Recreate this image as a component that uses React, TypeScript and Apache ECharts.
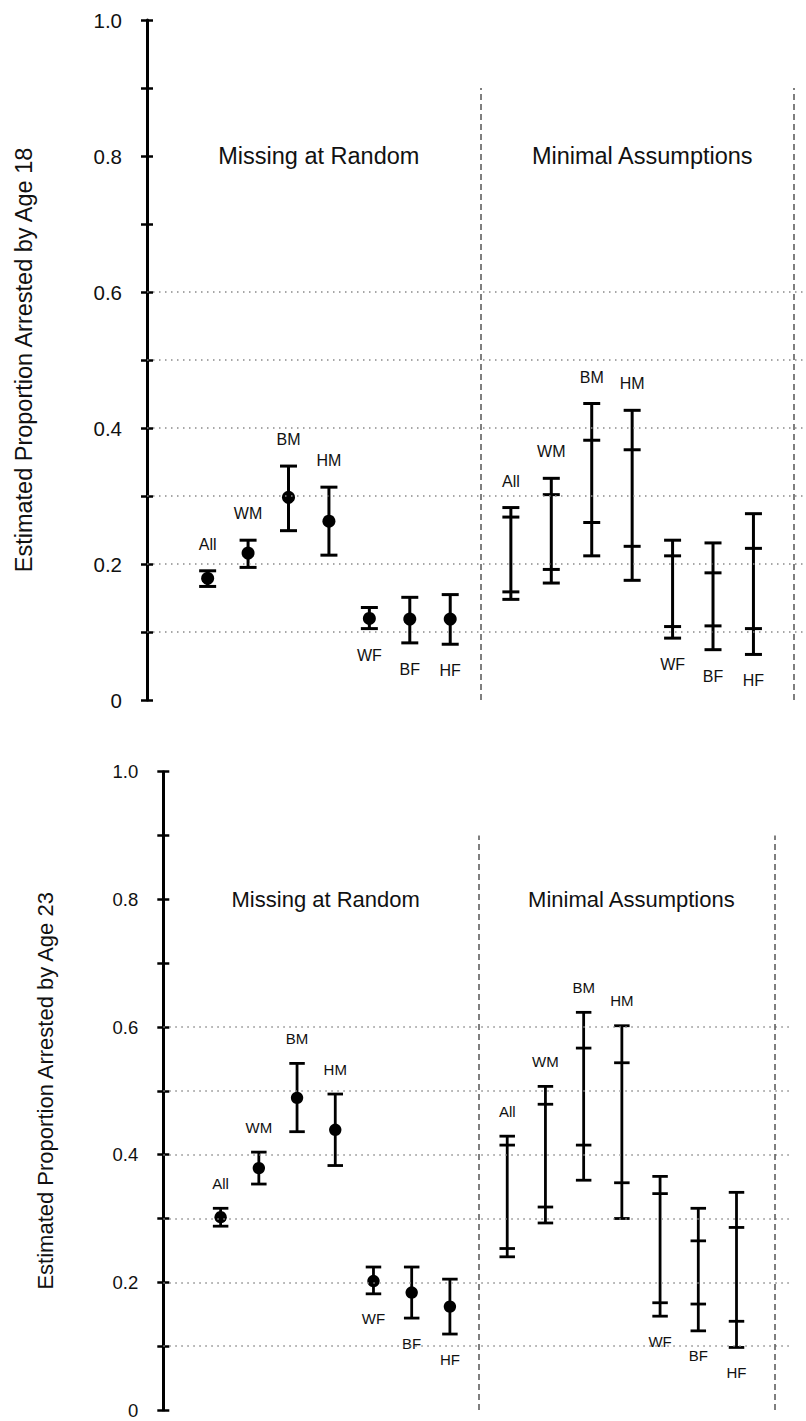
import React, { useEffect, useRef } from "react";
import * as echarts from "echarts";

// ---------- data ----------
const groups = ["All", "WM", "BM", "HM", "WF", "BF", "HF"];
const panelTitles = ["Missing at Random", "Minimal Assumptions"];
const yTickLabels = ["0", "0.2", "0.4", "0.6", "0.8", "1.0"];
const yAxisNames = [
  "Estimated Proportion Arrested by Age 18",
  "Estimated Proportion Arrested by Age 23",
];
const gridLineValues = [0.1, 0.2, 0.3, 0.4, 0.5, 0.6];

// Age 18 — Missing at Random: lower, estimate, upper
const mar18Low = [0.167, 0.195, 0.249, 0.213, 0.105, 0.084, 0.082];
const mar18Est = [0.179, 0.216, 0.298, 0.263, 0.12, 0.119, 0.119];
const mar18High = [0.19, 0.235, 0.344, 0.313, 0.136, 0.151, 0.155];
// Age 18 — Minimal Assumptions: outer/inner bounds
const ma18OuterLow = [0.148, 0.172, 0.212, 0.176, 0.091, 0.074, 0.067];
const ma18InnerLow = [0.159, 0.192, 0.261, 0.226, 0.108, 0.109, 0.105];
const ma18InnerHigh = [0.269, 0.302, 0.382, 0.368, 0.212, 0.187, 0.223];
const ma18OuterHigh = [0.283, 0.326, 0.436, 0.426, 0.235, 0.231, 0.274];

// Age 23 — Missing at Random
const mar23Low = [0.288, 0.354, 0.436, 0.383, 0.182, 0.144, 0.119];
const mar23Est = [0.302, 0.379, 0.489, 0.439, 0.202, 0.184, 0.162];
const mar23High = [0.316, 0.404, 0.543, 0.495, 0.224, 0.224, 0.205];
// Age 23 — Minimal Assumptions
const ma23OuterLow = [0.24, 0.293, 0.36, 0.3, 0.147, 0.124, 0.098];
const ma23InnerLow = [0.253, 0.318, 0.415, 0.356, 0.168, 0.166, 0.139];
const ma23InnerHigh = [0.415, 0.479, 0.567, 0.544, 0.339, 0.265, 0.286];
const ma23OuterHigh = [0.429, 0.507, 0.623, 0.602, 0.366, 0.316, 0.341];

// x positions (in category units)
const marX = groups.map((_, i) => i);
const maX = groups.map((_, i) => i + 7.5);
const dividerX = [6.75, 14.5];
const titleX = [2.75, 10.75];

const FONT = "'Liberation Sans', Arial, Helvetica, sans-serif";

const panels = [
  {
    grid: { left: 147, top: 20, height: 680, right: 0 },
    xMax: 14.8,
    tickFont: 20.5,
    nameFont: 23.5,
    nameGap: 111,
    titleFont: 23.5,
    labelFont: 16,
    labelOffset: 26.5,
    cap: 17,
    lw: 3,
    dot: 6.5,
    mar: [mar18Low, mar18Est, mar18High],
    ma: [ma18OuterLow, ma18InnerLow, ma18InnerHigh, ma18OuterHigh],
  },
  {
    grid: { left: 163.3, top: 771.7, height: 638.3, right: 16 },
    xMax: 14.9,
    tickFont: 18.5,
    nameFont: 22,
    nameGap: 107,
    titleFont: 22,
    labelFont: 15,
    labelOffset: 25,
    cap: 15.5,
    lw: 2.8,
    dot: 6.2,
    mar: [mar23Low, mar23Est, mar23High],
    ma: [ma23OuterLow, ma23InnerLow, ma23InnerHigh, ma23OuterHigh],
  },
];

function buildOption() {
  const grids: any[] = [];
  const xAxes: any[] = [];
  const yAxes: any[] = [];
  const series: any[] = [];

  panels.forEach((p, pi) => {
    grids.push({ ...p.grid, containLabel: false });
    xAxes.push({
      type: "value",
      gridIndex: pi,
      min: -1.5,
      max: p.xMax,
      show: false,
    });
  });
  // main y axes (outer ticks + labels)
  panels.forEach((p, pi) => {
    yAxes.push({
      type: "value",
      gridIndex: pi,
      position: "left",
      min: 0,
      max: 1,
      interval: 0.1,
      name: yAxisNames[pi],
      nameLocation: "middle",
      nameGap: p.nameGap,
      nameTextStyle: { fontFamily: FONT, fontSize: p.nameFont, color: "#111" },
      axisLine: { show: true, onZero: false, lineStyle: { color: "#000", width: 3 } },
      axisTick: { show: true, inside: false, length: 6, lineStyle: { color: "#000", width: 2.5 } },
      axisLabel: {
        show: true,
        margin: 25,
        fontFamily: FONT,
        fontSize: p.tickFont,
        color: "#111",
        formatter: (v: number) => {
          const k = Math.round(v * 10);
          return k % 2 === 0 ? yTickLabels[k / 2] : "";
        },
      },
      splitLine: { show: false },
    });
  });
  // inner ticks (so ticks cross the axis)
  panels.forEach((p, pi) => {
    yAxes.push({
      type: "value",
      gridIndex: pi,
      position: "left",
      offset: 0,
      min: 0,
      max: 1,
      interval: 0.1,
      axisLine: { show: false, onZero: false },
      axisTick: { show: true, inside: true, length: 6, lineStyle: { color: "#000", width: 2.5 } },
      axisLabel: { show: false },
      splitLine: { show: false },
    });
  });

  panels.forEach((p, pi) => {
    // grid lines & dividers
    series.push({
      type: "line",
      xAxisIndex: pi,
      yAxisIndex: pi,
      data: [],
      silent: true,
      z: 1,
      markLine: {
        silent: true,
        symbol: ["none", "none"],
        label: { show: false },
        lineStyle: { color: "#8a8a8a", width: 1.5, type: [1.5, 4.5] },
        data: gridLineValues.map((v) => ({ yAxis: v })),
      },
    });
    series.push({
      type: "line",
      xAxisIndex: pi,
      yAxisIndex: pi,
      data: [],
      silent: true,
      z: 1,
      markLine: {
        silent: true,
        symbol: ["none", "none"],
        label: { show: false },
        lineStyle: { color: "#555", width: 1.5, type: [6, 4] },
        data: dividerX.map((x) => [{ coord: [x, 0] }, { coord: [x, 0.9] }]),
      },
    });

    // section titles
    series.push({
      type: "custom",
      xAxisIndex: pi,
      yAxisIndex: pi,
      silent: true,
      z: 3,
      data: titleX.map((x) => [x, 0.8]),
      renderItem: (params: any, api: any) => {
        const pt = api.coord([api.value(0), api.value(1)]);
        return {
          type: "text",
          style: {
            text: panelTitles[params.dataIndex],
            x: pt[0],
            y: pt[1],
            align: "center",
            verticalAlign: "middle",
            textAlign: "center",
            textVerticalAlign: "middle",
            fontFamily: FONT,
            fontSize: p.titleFont,
            fill: "#111",
          },
        };
      },
    });

    // Missing at Random: error bars with dots
    const [lo, est, hi] = p.mar;
    series.push({
      type: "custom",
      xAxisIndex: pi,
      yAxisIndex: pi,
      silent: true,
      z: 4,
      data: groups.map((_, i) => [marX[i], lo[i], est[i], hi[i]]),
      renderItem: (params: any, api: any) => {
        const x = api.value(0);
        const a = api.coord([x, api.value(1)]);
        const m = api.coord([x, api.value(2)]);
        const b = api.coord([x, api.value(3)]);
        const name = groups[params.dataIndex];
        const below = name.endsWith("F");
        const hw = p.cap / 2;
        const ly = below ? a[1] + p.labelOffset : b[1] - p.labelOffset;
        const st = { stroke: "#000", lineWidth: p.lw };
        return {
          type: "group",
          children: [
            { type: "line", shape: { x1: a[0], y1: a[1], x2: b[0], y2: b[1] }, style: st },
            { type: "line", shape: { x1: a[0] - hw, y1: a[1], x2: a[0] + hw, y2: a[1] }, style: st },
            { type: "line", shape: { x1: b[0] - hw, y1: b[1], x2: b[0] + hw, y2: b[1] }, style: st },
            { type: "circle", shape: { cx: m[0], cy: m[1], r: p.dot }, style: { fill: "#000" } },
            {
              type: "text",
              style: {
                text: name,
                x: m[0],
                y: ly,
                align: "center",
                verticalAlign: "middle",
                textAlign: "center",
                textVerticalAlign: "middle",
                fontFamily: FONT,
                fontSize: p.labelFont,
                fill: "#111",
              },
            },
          ],
        };
      },
    });

    // Minimal Assumptions: nested bounds
    const [oLo, iLo, iHi, oHi] = p.ma;
    series.push({
      type: "custom",
      xAxisIndex: pi,
      yAxisIndex: pi,
      silent: true,
      z: 4,
      data: groups.map((_, i) => [maX[i], oLo[i], iLo[i], iHi[i], oHi[i]]),
      renderItem: (params: any, api: any) => {
        const x = api.value(0);
        const pts = [1, 2, 3, 4].map((k) => api.coord([x, api.value(k)]));
        const name = groups[params.dataIndex];
        const below = name.endsWith("F");
        const hw = p.cap / 2;
        const ly = below ? pts[0][1] + p.labelOffset : pts[3][1] - p.labelOffset;
        const st = { stroke: "#000", lineWidth: p.lw };
        const children: any[] = [
          { type: "line", shape: { x1: pts[0][0], y1: pts[0][1], x2: pts[3][0], y2: pts[3][1] }, style: st },
        ];
        pts.forEach((q) => {
          children.push({ type: "line", shape: { x1: q[0] - hw, y1: q[1], x2: q[0] + hw, y2: q[1] }, style: st });
        });
        children.push({
          type: "text",
          style: {
            text: name,
            x: pts[0][0],
            y: ly,
            align: "center",
            verticalAlign: "middle",
            textAlign: "center",
            textVerticalAlign: "middle",
            fontFamily: FONT,
            fontSize: p.labelFont,
            fill: "#111",
          },
        });
        return { type: "group", children };
      },
    });
  });

  return {
    animation: false,
    backgroundColor: "#fff",
    grid: grids,
    xAxis: xAxes,
    yAxis: yAxes,
    series,
  };
}

export default function App() {
  const ref = useRef<HTMLDivElement>(null);
  useEffect(() => {
    if (!ref.current) return;
    const chart = echarts.init(ref.current, undefined, { renderer: "svg" });
    chart.setOption(buildOption() as any);
    return () => chart.dispose();
  }, []);
  return (
    <div
      ref={ref}
      style={{ position: "absolute", left: 0, top: 0, width: 806, height: 1421, background: "#fff" }}
    />
  );
}
